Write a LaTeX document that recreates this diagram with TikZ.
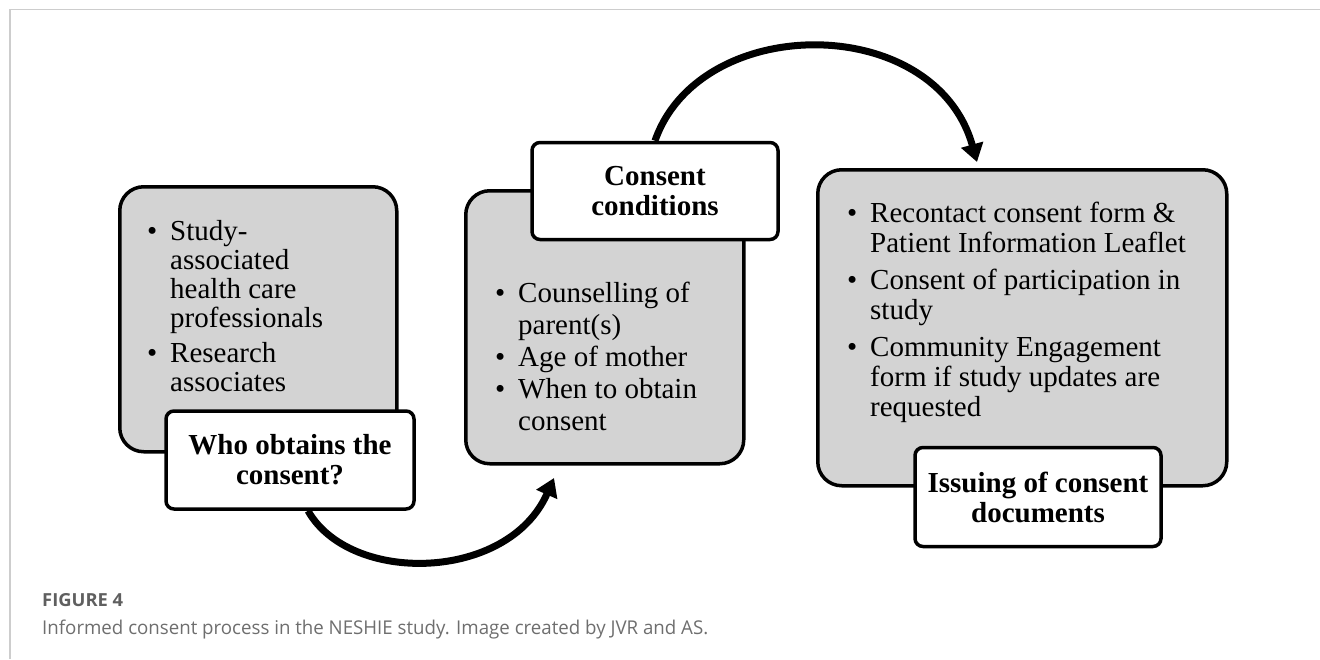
\documentclass[tikz,border=0pt]{standalone}
\usepackage{fontspec}
\setmainfont{Liberation Serif}
\newfontfamily\capfont{Open Sans}
\usetikzlibrary{arrows.meta}
\definecolor{boxgray}{RGB}{211,211,211}
\definecolor{capgray}{RGB}{110,110,110}
\definecolor{figgray}{RGB}{95,95,95}
\definecolor{framegray}{RGB}{205,205,205}
\newcommand{\bul}{\makebox[23pt][l]{\textbullet}}
\tikzset{
  panel/.style={draw=black, line width=3.5pt, fill=boxgray, rounded corners=24pt, anchor=north west, inner sep=0pt},
  tag/.style={draw=black, line width=3.5pt, fill=white, rounded corners=8pt, inner sep=0pt, align=center,
    font=\bfseries\fontsize{29}{30}\selectfont},
  body/.style={anchor=base west, inner sep=0pt},
  conn/.style={line width=7pt, -{Triangle[length=18pt,width=22pt]}},
  captxt/.style={anchor=base west, inner sep=0pt}
}
\begin{document}
\begin{tikzpicture}[x=1pt,y=-1pt]
\useasboundingbox (0,0) rectangle (1320,659);
\draw[framegray, line width=1.5pt] (10,659) -- (10,9.5) -- (1320,9.5);

% panel 1
\node[panel, minimum width=277pt, minimum height=265pt] (p1) at (118,185) {};
\node[body, font=\fontsize{29}{29}\selectfont] (t1) at (147,240) {\begin{tabular}[t]{@{}l@{}l@{}}
\bul & Study-\\ & associated\\ & health care\\ & professionals\\[6pt]
\bul & Research\\ & associates\end{tabular}};
\node[tag, minimum width=248pt, minimum height=98pt] (l1) at (290,460) {Who obtains the\\consent?};

% panel 2
\node[panel, minimum width=278pt, minimum height=273pt] (p2) at (464,189) {};
\node[body, font=\fontsize{29}{32}\selectfont] (t2) at (495,302) {\begin{tabular}[t]{@{}l@{}l@{}}
\bul & Counselling of\\ & parent(s)\\
\bul & Age of mother\\
\bul & When to obtain\\ & consent\end{tabular}};
\node[tag, minimum width=246pt, minimum height=97pt] (l2) at (655,191) {Consent\\conditions};

% panel 3
\node[panel, minimum width=409pt, minimum height=316pt] (p3) at (816,168) {};
\node[body, font=\fontsize{29}{30}\selectfont] (t3) at (847,222) {\begin{tabular}[t]{@{}l@{}l@{}}
\bul & Recontact consent form \&\\ & Patient Information Leaflet\\[7pt]
\bul & Consent of participation in\\ & study\\[7pt]
\bul & Community Engagement\\ & form if study updates are\\ & requested\end{tabular}};
\node[tag, minimum width=246pt, minimum height=99pt] (l3) at (1038,497) {Issuing of consent\\documents};

% connectors
\coordinate (a1) at (554,478);
\coordinate (a2) at (977,162);
\draw[conn] ([xshift=18pt]l1.south) .. controls (350,585) and (508,582) .. (a1);
\draw[conn] (l2.north) .. controls (700,12) and (935,12) .. (a2);

% caption
\node[captxt, text=figgray, font=\capfont\bfseries\fontsize{18}{20}\selectfont] (fig) at (42,606) {\resizebox{81pt}{\height}{FIGURE 4}};
\node[captxt, text=capgray, font=\capfont\fontsize{19}{22}\selectfont] (cap) at (42,634) {\resizebox{666pt}{\height}{Informed consent process in the NESHIE study. Image created by JVR and AS.}};
\end{tikzpicture}
\end{document}
